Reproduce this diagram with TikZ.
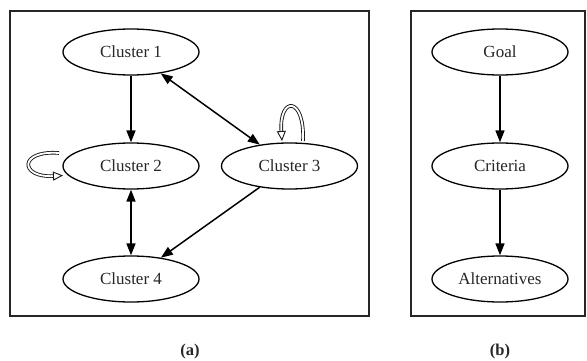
\documentclass[tikz,border=0pt]{standalone}
\usepackage{fontspec}
\setmainfont{Liberation Serif}
\usetikzlibrary{shapes.geometric,arrows.meta}
\begin{document}
\begin{tikzpicture}[x=1pt,y=-1pt,
  state/.style={draw, ellipse, line width=1.3pt, minimum width=136pt, minimum height=46pt,
    inner sep=0pt, font=\fontsize{17}{19}\selectfont, text=black!85},
  frame/.style={draw=black!85, line width=1.8pt},
  edge/.style={line width=1.5pt, -{Triangle[length=12pt,width=9pt]}},
  bothedge/.style={line width=1.5pt, {Triangle[length=12pt,width=9pt]}-{Triangle[length=12pt,width=9pt]}},
  loopedge/.style={draw=black!90, line width=0.9pt, double=white, double distance=1.8pt,
    -{Triangle[open,length=10pt,width=9pt]}},
  caption/.style={font=\fontsize{16.5}{18}\selectfont\bfseries, text=black!85}]
\useasboundingbox (0,0) rectangle (587,361);

% panel (a): clusters
\draw[frame] (10,11) rectangle (369,316);
\node[state] (c1) at (131,52) {Cluster 1};
\node[state] (c2) at (131,166) {Cluster 2};
\node[state] (c3) at (289.5,166) {Cluster 3};
\node[state] (c4) at (131,279) {Cluster 4};

\draw[edge] (c1) -- (c2);
\draw[bothedge] (c1) -- (c3);
\draw[bothedge] (c2) -- (c4);
\draw[edge] (c3) -- (c4);

% self-loops
\coordinate (l2a) at (59,153);
\coordinate (l2b) at (63,175.5);
\draw[loopedge] (l2a) .. controls (18,150) and (20,178) .. (l2b);
\coordinate (l3a) at (303,141);
\coordinate (l3b) at (282,141);
\draw[loopedge] (l3a) .. controls (305,96) and (279,96) .. (l3b);

\node[caption] (capa) at (190,352) {(a)};

% panel (b): hierarchy
\draw[frame] (411,11) rectangle (585,316);
\node[state] (goal) at (500,52) {Goal};
\node[state] (crit) at (500,166) {Criteria};
\node[state] (alt) at (500,279) {Alternatives};
\draw[edge] (goal) -- (crit);
\draw[edge] (crit) -- (alt);

\node[caption] (capb) at (500,352) {(b)};
\end{tikzpicture}
\end{document}
